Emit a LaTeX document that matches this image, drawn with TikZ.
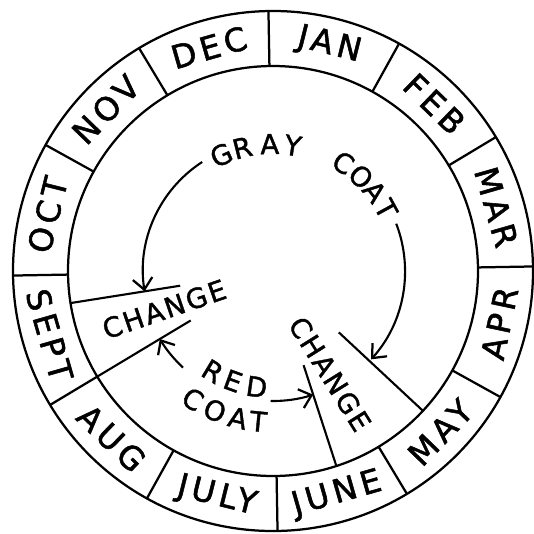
\documentclass[tikz,border=0pt]{standalone}
\usepackage{fontspec}
\usepackage{tikz}
\usetikzlibrary{arrows.meta}
\newfontfamily\monthfont[LetterSpace=14,FakeBold=1.6]{DejaVu Sans}
\newfontfamily\coatfont[LetterSpace=8,FakeBold=1.4]{DejaVu Sans}

\begin{document}
\begin{tikzpicture}[
  rim/.style={line width=1.6pt},
  wedge/.style={line width=1.5pt},
  month/.style={inner sep=0pt,font=\monthfont\fontsize{23}{23}\selectfont},
  coat/.style={inner sep=0pt,font=\coatfont\fontsize{19.5}{19.5}\selectfont},
  arr/.style={-{Straight Barb[length=8pt,width=14pt,line width=1.6pt]},line width=1.5pt}
]
\useasboundingbox (-6.825,-6.55) rectangle (6.525,6.775);
% calendar ring
\draw[rim] (0,0) circle (6.5);
\draw[rim] (0,0) circle (5.125);
\foreach \a in {1,31,...,331}
  \draw[rim] (\a:5.125) -- (\a:6.5);
\foreach \txt/\ang/\rot [count=\i] in {JAN/76/-14,FEB/46/-44,MAR/16/-74,APR/-13/78,MAY/-44/46,JUNE/-74/16,JULY/-104/-14,AUG/-134/-44,SEPT/-164/-74,OCT/166/76,NOV/136/46,DEC/106/16}
  \node[month,rotate=\rot] (month\i) at (\ang:5.81) {\txt};
% moult wedges
\draw[wedge] (-171:2.35) -- (-171:5.125);
\draw[wedge] (-149:2.4) -- (-149:5.125);
\draw[wedge] (-72:2.475) -- (-72:5.125);
\draw[wedge] (-43:2.25) -- (-43:5.125);
\node[coat,rotate=19] (changeL) at (-2.72,-0.955) {CHANGE};
\node[coat,rotate=-58] (changeR) at (1.425,-2.575) {CHANGE};
% gray coat
\foreach \ch/\ang [count=\i,evaluate=\ang as \rot using \ang-90] in {G/114,R/104,A/91.5,Y/81}
  \node[coat,rotate=\rot] (gray\i) at (\ang:3.175) {\ch};
\foreach \ch/\ang [count=\i,evaluate=\ang as \rot using \ang-90] in {C/57,O/47,A/38,T/28.7}
  \node[coat,rotate=\rot] (graycoat\i) at (\ang:3.225) {\ch};
\coordinate (grayL) at (123:3.25);
\coordinate (grayR) at (21:3.3);
\draw[arr] (grayL) arc[start angle=123,end angle=189,radius=3.25];
\draw[arr] (grayR) arc[start angle=21,end angle=-42,radius=3.3];
% red coat
\foreach \ch/\ang [count=\i,evaluate=\ang as \rot using \ang+90] in {R/-121,E/-110,D/-98}
  \node[coat,rotate=\rot] (red\i) at (\ang:2.925) {\ch};
\foreach \ch/\ang [count=\i,evaluate=\ang as \rot using \ang+90] in {C/-122,O/-112.6,A/-103.4,T/-95.6}
  \node[coat,rotate=\rot] (redcoat\i) at (\ang:3.78) {\ch};
\coordinate (redL) at (-133:3.3);
\coordinate (redR) at (-91:3.25);
\draw[arr] (redL) arc[start angle=-133,end angle=-149,radius=3.3];
\draw[arr] (redR) arc[start angle=-91,end angle=-72,radius=3.25];
\end{tikzpicture}
\end{document}
